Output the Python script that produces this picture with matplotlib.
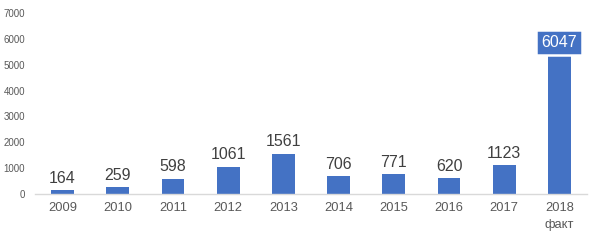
import matplotlib
matplotlib.use("Agg")
import matplotlib.pyplot as plt

categories = ["2009", "2010", "2011", "2012", "2013", "2014", "2015", "2016", "2017", "2018\nфакт"]
values = [164, 259, 598, 1061, 1561, 706, 771, 620, 1123, 6047]
yticks = [0, 1000, 2000, 3000, 4000, 5000, 6000, 7000]

plt.rcParams['font.family'] = ['Liberation Sans', 'DejaVu Sans']

fig = plt.figure(figsize=(6.0, 2.44), dpi=100)
ax = fig.add_axes([35/600, 50/244, 552/600, 181/244])

blue = "#4472C4"
x = list(range(len(values)))
ax.bar(x, values, width=0.41, color=blue, zorder=2)

ax.set_xlim(-0.5, len(values) - 0.5)
ax.set_ylim(0, 7000)
ax.set_yticks(yticks)
ax.set_yticklabels([str(t) for t in yticks], fontsize=7, color="#595959")
ax.set_xticks(x)
ax.set_xticklabels(categories, fontsize=9.3, color="#595959", linespacing=1.55)
ax.tick_params(axis='both', length=0)
ax.tick_params(axis='y', pad=7)
ax.tick_params(axis='x', pad=6)

for s in ["top", "right", "left"]:
    ax.spines[s].set_visible(False)
ax.spines["bottom"].set_color("#d9d9d9")
ax.spines["bottom"].set_linewidth(1)

for i, v in enumerate(values[:-1]):
    ax.annotate(str(v), (i, v), xytext=(0, 3), textcoords="offset points",
                ha="center", va="bottom", fontsize=11.5, color="#404040")

i = len(values) - 1
ax.annotate(str(values[i]), (i, values[i]), xytext=(0, -3.5), textcoords="offset points",
            ha="center", va="center", fontsize=11.5, color="white", fontweight="normal",
            bbox=dict(boxstyle="square,pad=0.32", facecolor=blue, edgecolor="white", linewidth=1.8),
            zorder=5)

fig.savefig("out.png", dpi=100)
